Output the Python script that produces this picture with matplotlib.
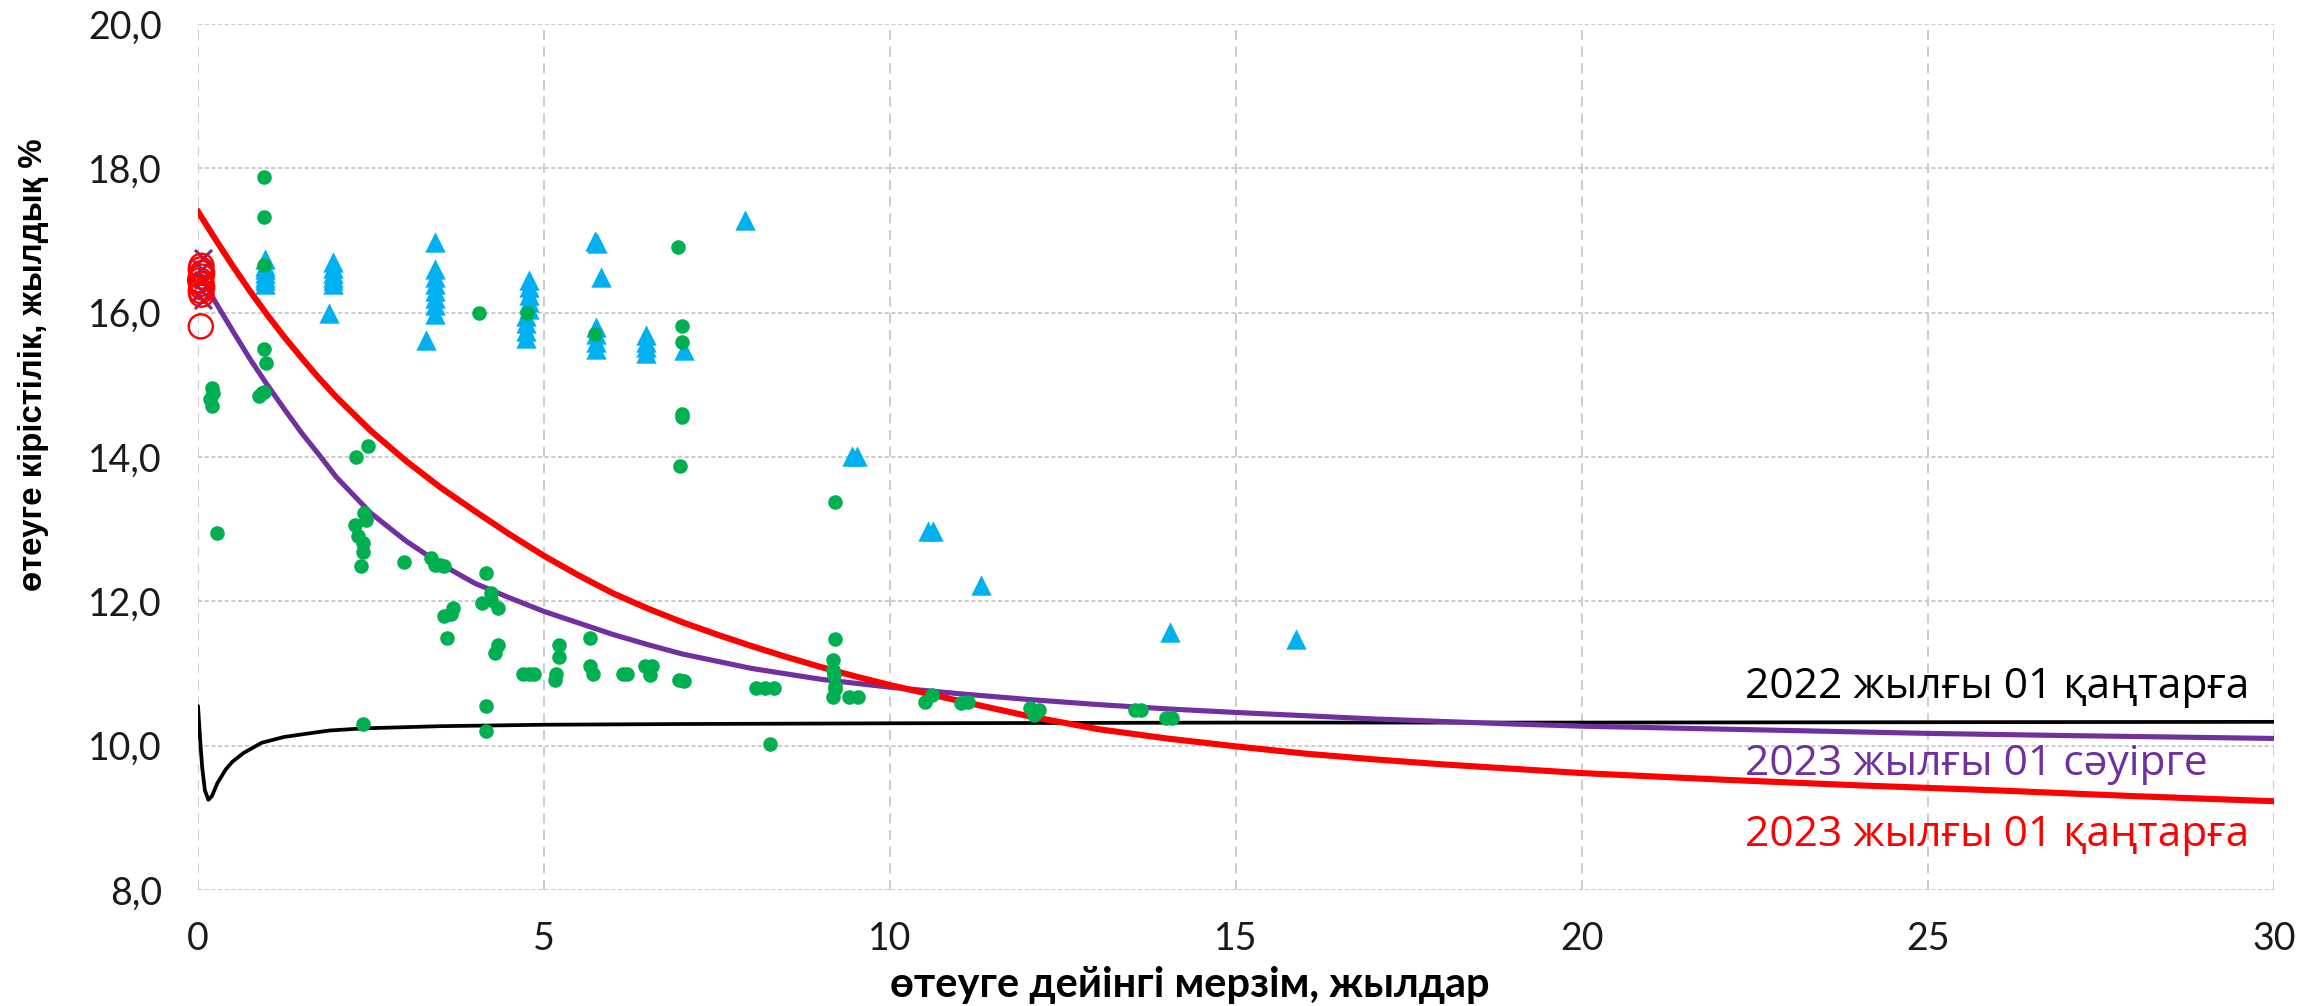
import matplotlib
matplotlib.use("Agg")
import matplotlib.pyplot as plt
from matplotlib.ticker import FixedLocator, FuncFormatter

# ---------------- data ----------------
# Yield curves (maturity in years, yield %)
curve_2022_jan_x = [0, 0.03, 0.06, 0.1, 0.15, 0.2, 0.28, 0.4, 0.5, 0.66, 0.92, 1.24, 1.6, 1.9, 2.4,
                    3.5, 5, 7, 10, 15, 20, 30]
curve_2022_jan_y = [10.55, 10.1, 9.7, 9.38, 9.25, 9.30, 9.48, 9.67, 9.78, 9.90, 10.04, 10.12, 10.17,
                    10.21, 10.24, 10.27, 10.29, 10.30, 10.31, 10.32, 10.32, 10.33]

curve_2023_apr_x = [0, 0.25, 0.5, 0.75, 1, 1.25, 1.5, 1.75, 2, 2.5, 3, 3.5, 4, 4.5, 5, 5.5, 6, 6.5,
                    7, 8, 9, 10, 11, 12, 13, 14, 15, 17, 19, 20, 22, 25, 27, 30]
curve_2023_apr_y = [16.58, 16.15, 15.75, 15.36, 15.00, 14.66, 14.33, 14.03, 13.72, 13.22, 12.84,
                    12.52, 12.25, 12.05, 11.86, 11.70, 11.54, 11.40, 11.27, 11.07, 10.92, 10.81,
                    10.72, 10.64, 10.57, 10.51, 10.46, 10.37, 10.30, 10.27, 10.23, 10.17, 10.14,
                    10.10]

curve_2023_jan_x = [0, 0.25, 0.5, 0.75, 1, 1.25, 1.5, 1.75, 2, 2.5, 3, 3.5, 4, 4.5, 5, 5.5, 6, 6.5,
                    7, 7.5, 8, 8.5, 9, 9.5, 10, 11, 12, 13, 14, 15, 16, 17, 18, 19, 20, 22, 24,
                    26, 28, 30]
curve_2023_jan_y = [17.40, 17.02, 16.65, 16.30, 15.97, 15.66, 15.37, 15.09, 14.83, 14.36, 13.95,
                    13.58, 13.25, 12.93, 12.63, 12.36, 12.11, 11.90, 11.71, 11.54, 11.38, 11.23,
                    11.09, 10.96, 10.84, 10.62, 10.41, 10.23, 10.10, 9.99, 9.89, 9.81, 9.74, 9.68,
                    9.62, 9.53, 9.45, 9.38, 9.30, 9.23]

# Green dots
green_x = [0.20, 0.22, 0.18, 0.20, 0.27,
           0.96, 0.96, 0.96, 0.95, 0.98, 0.92, 0.88, 0.95,
           2.29, 2.46, 2.40, 2.43, 2.27, 2.31, 2.39, 2.39, 2.35, 2.39,
           2.98, 3.36, 3.43, 3.56, 3.50,
           3.69, 3.56, 3.66, 3.60,
           4.16, 4.23, 4.11, 4.34, 4.24, 4.34, 4.29, 4.16, 4.16, 4.06,
           4.75, 4.69, 4.79, 4.85,
           5.21, 5.22, 5.17, 5.16,
           5.67, 5.66, 5.71, 5.73,
           6.14, 6.20, 6.46, 6.56, 6.53,
           6.95, 7.02, 6.94, 6.99, 6.99, 6.99, 6.99, 6.97,
           8.07, 8.20, 8.33, 8.27,
           9.21, 9.20, 9.17, 9.18, 9.19, 9.21, 9.18, 9.41, 9.54, 9.20,
           10.60, 10.50, 11.02, 11.12,
           12.02, 12.15, 12.08,
           13.54, 13.63, 13.99, 14.07]
green_y = [14.95, 14.88, 14.80, 14.70, 12.94,
           17.88, 17.32, 16.66, 15.49, 15.30, 14.88, 14.84, 14.90,
           14.00, 14.15, 13.22, 13.13, 13.06, 12.90, 12.81, 12.69, 12.49, 10.30,
           12.55, 12.60, 12.51, 12.49, 12.50,
           11.91, 11.79, 11.82, 11.49,
           12.39, 12.11, 11.98, 11.91, 12.02, 11.40, 11.29, 10.55, 10.20, 16.00,
           16.00, 10.99, 10.99, 10.99,
           11.39, 11.23, 11.00, 10.91,
           11.49, 11.11, 11.00, 15.70,
           10.99, 10.99, 11.10, 11.10, 10.98,
           10.91, 10.89, 16.91, 15.81, 15.60, 14.60, 14.55, 13.88,
           10.80, 10.80, 10.80, 10.02,
           13.38, 11.48, 11.19, 11.05, 10.98, 10.78, 10.68, 10.68, 10.68, 10.82,
           10.70, 10.60, 10.59, 10.61,
           10.52, 10.49, 10.42,
           10.49, 10.49, 10.39, 10.39]

# Blue triangles
blue_x = [0.97, 0.97, 0.97, 0.97, 0.97, 0.97, 0.97,
          1.95, 1.95, 1.95, 1.95, 1.95, 1.95, 1.90,
          3.42, 3.42, 3.42, 3.42, 3.42, 3.42, 3.42, 3.42, 3.30,
          4.79, 4.79, 4.79, 4.79, 4.79, 4.74, 4.74, 4.74, 4.74,
          5.73, 5.76, 5.83, 5.75, 5.75, 5.75, 5.75,
          6.47, 6.47, 6.47, 6.47,
          7.03, 7.90, 9.45, 9.52, 10.55, 10.62, 11.32, 14.04, 15.86]
blue_y = [16.75, 16.65, 16.60, 16.55, 16.50, 16.45, 16.40,
          16.70, 16.62, 16.55, 16.50, 16.45, 16.40, 16.00,
          16.98, 16.60, 16.50, 16.40, 16.30, 16.20, 16.10, 15.98, 15.62,
          16.45, 16.35, 16.25, 16.15, 16.05, 15.95, 15.85, 15.75, 15.65,
          17.00, 16.97, 16.49, 15.80, 15.70, 15.60, 15.50,
          15.69, 15.60, 15.52, 15.44,
          15.48, 17.28, 14.02, 14.02, 12.98, 12.98, 12.23, 11.58, 11.48]

# Red open circles (short end)
red_x = [0.05, 0.04, 0.06, 0.05, 0.03, 0.05, 0.06, 0.04, 0.05, 0.04]
red_y = [16.65, 16.60, 16.55, 16.50, 16.45, 16.40, 16.35, 16.30, 16.25, 15.81]

# Purple crosses (short end)
purple_x = [0.07, 0.06, 0.07, 0.06, 0.07]
purple_y = [16.76, 16.60, 16.45, 16.30, 16.18]

label_2022_jan = "2022 жылғы 01 қаңтарға"
label_2023_apr = "2023 жылғы 01 сәуірге"
label_2023_jan = "2023 жылғы 01 қаңтарға"
xlabel = "өтеуге дейінгі мерзім, жылдар"
ylabel = "өтеуге кірістілік, жылдық %"
x_ticks = [0, 5, 10, 15, 20, 25, 30]
y_ticks = [8, 10, 12, 14, 16, 18, 20]

# ---------------- figure ----------------
W, H = 2320, 1006
fig = plt.figure(figsize=(W / 100, H / 100), dpi=100)
L, R, T, B = 198, 2274, 24, 890
ax = fig.add_axes([L / W, 1 - B / H, (R - L) / W, (B - T) / H])
ax.set_xlim(0, 30)
ax.set_ylim(8, 20)

for s in ax.spines.values():
    s.set_visible(False)

ax.xaxis.set_major_locator(FixedLocator(x_ticks))
ax.yaxis.set_major_locator(FixedLocator(y_ticks))
ax.yaxis.set_major_formatter(FuncFormatter(lambda v, p: f"{v:.1f}".replace(".", ",")))
ax.xaxis.set_major_formatter(FuncFormatter(lambda v, p: f"{int(v)}"))
ax.tick_params(axis="both", length=0, labelsize=27, colors="#1a1a1a")
ax.tick_params(axis="y", pad=26)
ax.tick_params(axis="x", pad=22)
for lab in ax.get_xticklabels() + ax.get_yticklabels():
    lab.set_fontfamily(["Lato", "DejaVu Sans"])
    lab.set_fontweight("normal")

ax.xaxis.grid(True, linestyle=(0, (6, 4)), color="#c4c4c4", linewidth=1.2)
ax.yaxis.grid(True, linestyle=(0, (2.5, 1.5)), color="#c4c4c4", linewidth=1.2)
ax.set_axisbelow(True)

ax.plot(curve_2022_jan_x, curve_2022_jan_y, color="black", lw=2.7, zorder=3,
        solid_joinstyle="round", solid_capstyle="round")
ax.plot(curve_2023_apr_x, curve_2023_apr_y, color="#7030A0", lw=3.7, zorder=3,
        solid_joinstyle="round")
ax.plot(curve_2023_jan_x, curve_2023_jan_y, color="#FF0000", lw=4.4, zorder=3,
        solid_joinstyle="round")

ax.scatter(blue_x, blue_y, marker="^", s=215, color="#00B0F0", linewidths=0, zorder=4)
ax.scatter(green_x, green_y, marker="o", s=110, color="#00B050", linewidths=0, zorder=5)
ax.scatter(purple_x, purple_y, marker="x", s=150, color="#7030A0", linewidths=2.2, zorder=5,
           clip_on=False)
ax.scatter(red_x, red_y, marker="o", s=300, facecolors="none", edgecolors="#FF0000",
           linewidths=1.7, zorder=6, clip_on=False)

lab_font = ["Liberation Sans Narrow", "Open Sans", "DejaVu Sans"]
ax.text(0.745, 0.234, label_2022_jan, transform=ax.transAxes, ha="left", va="center",
        fontsize=30.6, color="black", family=lab_font)
ax.text(0.745, 0.145, label_2023_apr, transform=ax.transAxes, ha="left", va="center",
        fontsize=30.6, color="#7030A0", family=lab_font)
ax.text(0.745, 0.064, label_2023_jan, transform=ax.transAxes, ha="left", va="center",
        fontsize=30.6, color="#FF0000", family=lab_font)

fig.text(1190 / W, 1 - 985 / H, xlabel, ha="center", va="center", fontsize=30,
         fontweight="bold", family=["Lato", "DejaVu Sans"])
fig.text(33 / W, 1 - 365 / H, ylabel, ha="center", va="center", rotation=90,
         fontsize=23.8, fontweight="bold", family=["Liberation Sans", "DejaVu Sans"])

fig.savefig("out.png", dpi=100)
